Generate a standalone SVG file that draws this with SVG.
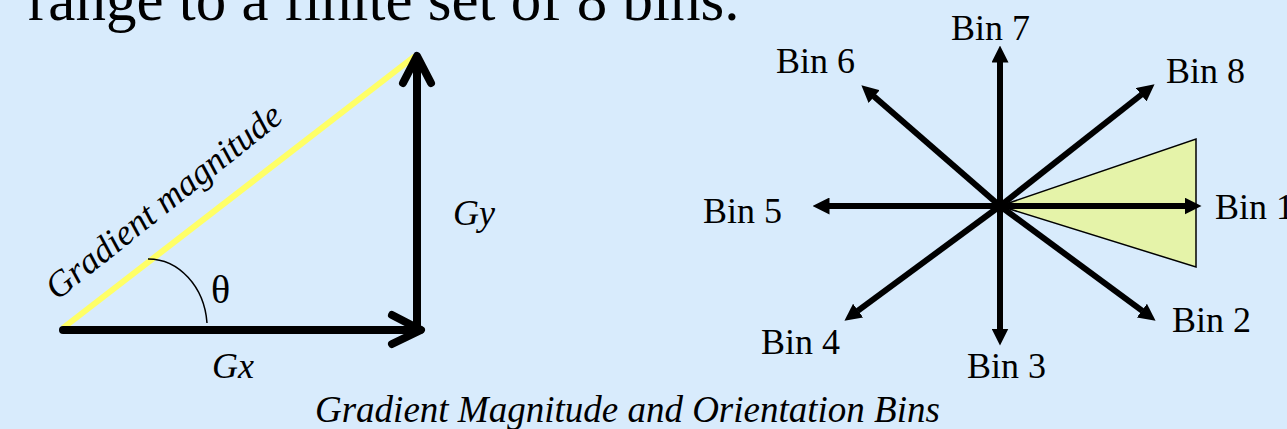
<svg xmlns="http://www.w3.org/2000/svg" width="1287" height="429" viewBox="0 0 1287 429">
  <style>
    .t { font-family: "Liberation Serif", "Times New Roman", serif; fill: #000; }
    .lbl { font-size: 36px; }
    .it { font-style: italic; }
    .bin { stroke: #000; stroke-width: 6; fill: none; }
    .thick { stroke: #000; stroke-width: 8; fill: none; stroke-linecap: round; stroke-linejoin: round; }
  </style>
  <defs>
    <marker id="ah" viewBox="0 0 17 17" markerWidth="17" markerHeight="17" refX="0.5" refY="8.5" orient="auto" markerUnits="userSpaceOnUse">
      <path d="M0,0 L17,8.5 L0,17 z" fill="#000"/>
    </marker>
  </defs>
  <rect x="0" y="0" width="1287" height="429" fill="#D8EBFC"/>

  <text id="title" class="t" x="28" y="20" font-size="61">range to a finite set of 8 bins.</text>

  <g id="triangle-diagram">
    <line id="magnitude" x1="63" y1="328" x2="415" y2="56" stroke="#FFFF66" stroke-width="6"/>
    <path id="theta-arc" d="M148,259 A59,70 0 0,1 207,323" fill="none" stroke="#000" stroke-width="1.5"/>
  </g>

  <g id="connectors">
    <line class="thick" x1="63" y1="330" x2="420" y2="330" stroke-linecap="butt"/>
    <polyline class="thick" points="392,315 421,330 392,344"/>
    <line class="thick" x1="417" y1="330" x2="417" y2="58" stroke-linecap="butt"/>
    <polyline class="thick" points="403,83 417,56 431,83"/>
  </g>

  <g id="label-magnitude">
    <text class="t lbl it" transform="translate(57,301) rotate(-38.5)">Gradient magnitude</text>
  </g>
  <g id="label-theta"><text class="t" x="211" y="303" font-size="40">θ</text></g>
  <g id="label-gx"><text class="t lbl it" x="212" y="378">Gx</text></g>
  <g id="label-gy"><text class="t lbl it" x="453" y="225">Gy</text></g>

  <g id="bin-sector">
    <polygon points="1000,206 1196,139 1196,267" fill="#E5F3A9" stroke="#000" stroke-width="1.5"/>
  </g>

  <g id="bin-arrows">
    <line class="bin" x1="1000" y1="206" x2="1185" y2="206" marker-end="url(#ah)"/>
    <line class="bin" x1="1000" y1="206" x2="1142.3" y2="310.9" marker-end="url(#ah)"/>
    <line class="bin" x1="1000" y1="206" x2="1000" y2="329" marker-end="url(#ah)"/>
    <line class="bin" x1="1000" y1="206" x2="857.7" y2="310.9" marker-end="url(#ah)"/>
    <line class="bin" x1="1000" y1="206" x2="829" y2="206" marker-end="url(#ah)"/>
    <line class="bin" x1="1000" y1="206" x2="873.8" y2="96.2" marker-end="url(#ah)"/>
    <line class="bin" x1="1000" y1="206" x2="1000" y2="62" marker-end="url(#ah)"/>
    <line class="bin" x1="1000" y1="206" x2="1141.6" y2="94.5" marker-end="url(#ah)"/>
  </g>

  <g id="bin1"><text class="t lbl" x="1215" y="219">Bin 1</text></g>
  <g id="bin2"><text class="t lbl" x="1172" y="332">Bin 2</text></g>
  <g id="bin3"><text class="t lbl" x="967" y="378">Bin 3</text></g>
  <g id="bin4"><text class="t lbl" x="761" y="354">Bin 4</text></g>
  <g id="bin5"><text class="t lbl" x="703" y="223">Bin 5</text></g>
  <g id="bin6"><text class="t lbl" x="776" y="73">Bin 6</text></g>
  <g id="bin7"><text class="t lbl" x="951" y="40">Bin 7</text></g>
  <g id="bin8"><text class="t lbl" x="1166" y="83">Bin 8</text></g>

  <g id="caption">
    <text class="t it" x="315" y="422" font-size="37">Gradient Magnitude and Orientation Bins</text>
  </g>
</svg>
